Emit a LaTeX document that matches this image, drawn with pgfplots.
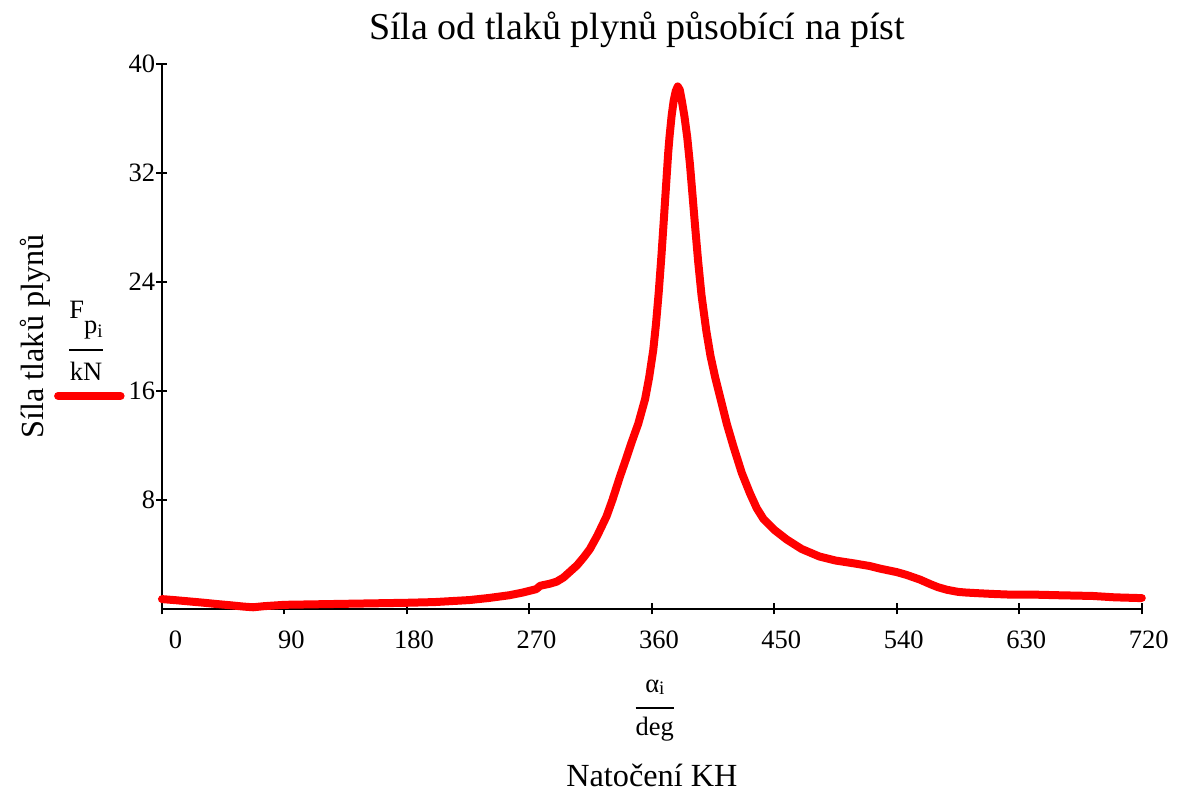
\documentclass[border=0pt]{standalone}
\usepackage{pgfplots}
\pgfplotsset{compat=1.18}
\usepackage{amsmath}
\usepackage{fontspec}
\setmainfont{Liberation Serif}

\begin{document}
\begin{tikzpicture}
\begin{axis}[
    scale only axis,
    width=392pt, height=218pt,
    xmin=0, xmax=720, ymin=0, ymax=40,
    axis x line*=bottom, axis y line*=left,
    axis line style={line width=0.8pt, -},
    xtick={0,90,...,720},
    xticklabels={\hphantom{0}0,90,180,270,360,450,540,630,720},
    ytick={8,16,24,32,40},
    tick align=center,
    major tick length=4.4pt,
    every tick/.style={black, line width=0.8pt},
    tick label style={font=\fontsize{10.6}{12}\selectfont},
    /pgf/number format/assume math mode=true,
    xticklabel style={xshift=2.8pt, yshift=-3pt},
    yticklabel style={xshift=3pt},
    clip=false,
    legend style={draw=none, fill=none, inner sep=0pt, outer sep=0pt,
        at={(rel axis cs:-0.069,0.391)}, anchor=center},
    legend image code/.code={\draw[#1] (0pt,0pt) -- (25pt,0pt);},
]

% gas force on piston
\addplot[color=red, line width=3.2pt, line join=round, line cap=round]
    coordinates {
    (0,0.72)(10,0.64)(20,0.55)(30,0.46)(40,0.36)(50,0.27)(60,0.17)(67,0.12)
    (75,0.2)(90,0.3)(120,0.35)(150,0.4)(180,0.45)(200,0.5)(226,0.65)
    (240,0.8)(255,1.0)(265,1.2)(275,1.45)(278,1.7)(285,1.85)(290,2.0)
    (295,2.3)(300,2.75)(305,3.2)(310,3.8)(314.5,4.4)(320,5.4)(326.7,6.8)
    (331,8.0)(336.5,9.7)(341,11.0)(345,12.2)(350,13.6)(355,15.4)(358,17.0)
    (361,19.0)(363,20.9)(365,23.2)(367,25.9)(369,28.9)(370.5,31.2)(372,33.5)
    (373,34.7)(374.5,36.2)(376,37.3)(377.5,38.0)(379,38.35)(380.5,38.1)
    (382,37.3)(384,36.1)(386,34.6)(388,32.6)(390,30.2)(392,27.8)(394,25.5)
    (396.5,23.0)(400,20.4)(403,18.6)(406.5,17.0)(410,15.6)(415,13.6)
    (420,11.9)(426,10.0)(432,8.5)(437,7.4)(442,6.6)(450,5.8)(459,5.1)
    (470,4.4)(483,3.85)(495,3.55)(508,3.35)(520,3.15)(528,2.95)(540,2.7)
    (547,2.5)(557,2.15)(565,1.8)(570,1.6)(577,1.4)(585,1.25)(591,1.2)
    (600,1.15)(610,1.1)(623,1.05)(640,1.05)(660,1.0)(684,0.95)(700,0.85)
    (717,0.8)(720,0.8)
    };
\addlegendentry{}

\node at (rel axis cs:0.485,1.062) {\fontsize{15.2}{18}\selectfont Síla od tlaků plynů působící na píst};
\node[rotate=90] at (rel axis cs:-0.1296,0.5) {\fontsize{12.9}{15}\selectfont Síla tlaků plynů};
\node at (rel axis cs:-0.0775,0.492) {\fontsize{10.6}{12}\selectfont
    $\genfrac{}{}{0.8pt}{0}{\text{F\raisebox{-6pt}{p}\raisebox{-7.6pt}{\fontsize{7.6}{8}\selectfont i}}\rule[-10pt]{0pt}{1pt}}{\rule{0pt}{9.2pt}\text{kN}}$};
\node at (rel axis cs:0.503,-0.186) {\fontsize{10.6}{12}\selectfont
    $\genfrac{}{}{0.8pt}{0}{\text{α\raisebox{-0.8pt}{\fontsize{7.6}{8}\selectfont i}}\rule[-3.6pt]{0pt}{1pt}}{\rule{0pt}{8pt}\text{deg}}$};
\node at (rel axis cs:0.5,-0.306) {\fontsize{12.9}{15}\selectfont Natočení KH};

\path (rel axis cs:-0.1653,-0.3413) rectangle (rel axis cs:1.0357,1.1174);
\end{axis}
\end{tikzpicture}
\end{document}
